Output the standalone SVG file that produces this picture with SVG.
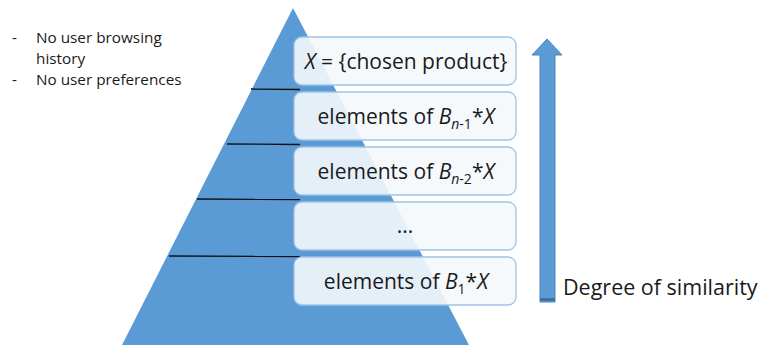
<svg xmlns="http://www.w3.org/2000/svg" width="761" height="345" viewBox="0 0 761 345">
<style>
.t{font-family:"Open Sans","Liberation Sans",sans-serif;fill:#1a1a1a}
.box{fill:#f4f8fc;fill-opacity:0.9;stroke:#9dc3e6;stroke-width:1.3}
.lbl{font-family:"Open Sans","Liberation Sans",sans-serif;font-size:21px;fill:#1a1a1a;text-anchor:middle}
.sub{font-size:14px}
.sep{stroke:#111;stroke-width:1.3}
</style>
<rect width="761" height="345" fill="#fff"/>
<g id="notes" class="t" font-size="15.3">
<text x="12" y="43">-</text><text x="36" y="43">No user browsing</text>
<text x="36" y="64">history</text>
<text x="12" y="85">-</text><text x="36" y="85">No user preferences</text>
</g>
<g id="pyramid">
<polygon points="293,8 122,345 469,345" fill="#5b9bd5"/>
<g class="sep">
<line x1="251" y1="89" x2="300" y2="89.5"/>
<line x1="227" y1="144" x2="300" y2="144.5"/>
<line x1="197" y1="199" x2="300" y2="199.5"/>
<line x1="169" y1="256" x2="300" y2="256.5"/>
</g>
</g>
<g id="box1"><rect class="box" x="294" y="37" width="222" height="48" rx="8"/>
<text class="lbl" x="406" y="69"><tspan font-style="italic">X</tspan> = {chosen product}</text></g>
<g id="box2"><rect class="box" x="294" y="92" width="222" height="48" rx="8"/>
<text class="lbl" x="406" y="124">elements of <tspan font-style="italic">B</tspan><tspan class="sub" font-style="italic" dy="5">n</tspan><tspan class="sub">-1</tspan><tspan dy="-5">*</tspan><tspan font-style="italic">X</tspan></text></g>
<g id="box3"><rect class="box" x="294" y="147" width="222" height="48" rx="8"/>
<text class="lbl" x="406" y="179">elements of <tspan font-style="italic">B</tspan><tspan class="sub" font-style="italic" dy="5">n</tspan><tspan class="sub">-2</tspan><tspan dy="-5">*</tspan><tspan font-style="italic">X</tspan></text></g>
<g id="box4"><rect class="box" x="294" y="202" width="222" height="48" rx="8"/>
<text class="lbl" x="405" y="233">...</text></g>
<g id="box5"><rect class="box" x="294" y="257" width="222" height="48" rx="8"/>
<text class="lbl" x="406" y="289">elements of <tspan font-style="italic">B</tspan><tspan class="sub" dy="5">1</tspan><tspan dy="-5">*</tspan><tspan font-style="italic">X</tspan></text></g>
<g id="connectors">
<polygon points="547,39 562,55 555,55 555,302 540,302 540,55 532,55" fill="#5b9bd5" stroke="#4a86c0" stroke-width="1"/>
<rect x="540" y="298" width="15" height="3" fill="#41719c"/>
</g>
<g id="axis-label"><text class="t" x="563" y="295" font-size="21.5">Degree of similarity</text></g>
</svg>
